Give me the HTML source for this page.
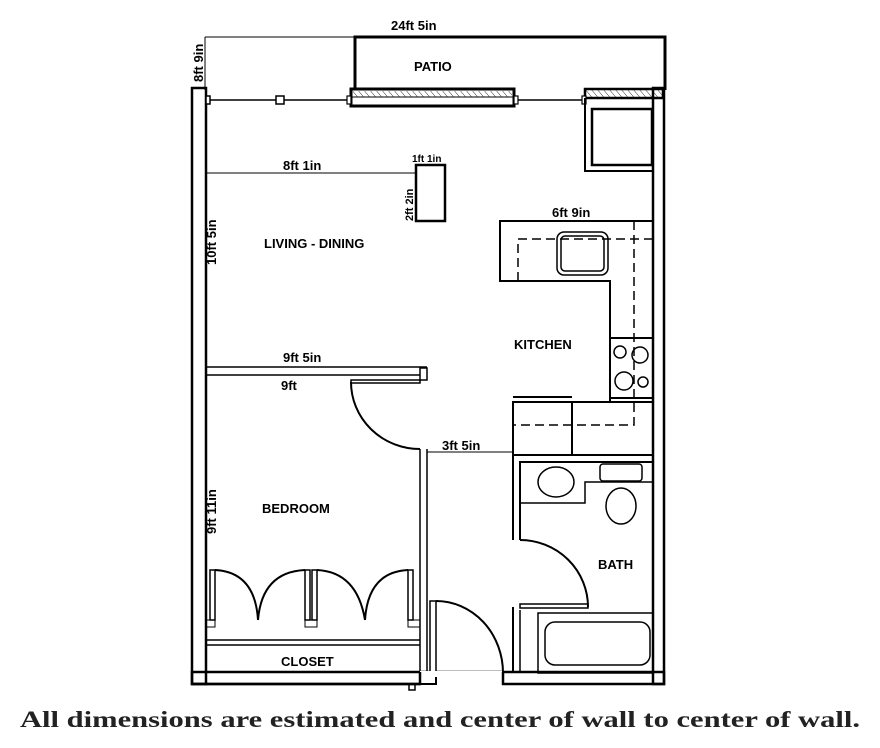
<!DOCTYPE html>
<html><head><style>
html,body{margin:0;padding:0;background:#fff;}
svg{display:block;}
text{font-family:"Liberation Sans",sans-serif;font-weight:bold;font-size:13px;fill:#000;}
</style></head><body>
<svg width="880" height="748" viewBox="0 0 880 748" xmlns="http://www.w3.org/2000/svg">
<defs>
<pattern id="h" width="6" height="10" patternUnits="userSpaceOnUse" patternTransform="skewX(40)">
<line x1="0" y1="0" x2="0" y2="10" stroke="#000" stroke-width="1"/></pattern>
</defs>
<g fill="none" stroke="#000">
<line x1="205" y1="37" x2="355" y2="37" stroke-width="1"/>
<line x1="205" y1="37" x2="205" y2="90" stroke-width="1"/>
<polyline points="355,90 355,37 665,37 665,90" stroke-width="3"/>
<rect x="192" y="88" width="14" height="596" stroke-width="2.5"/>
<rect x="192" y="672" width="472" height="12" stroke-width="2.5"/>
<rect x="653" y="88" width="11" height="596" stroke-width="2.5"/>
<line x1="206" y1="100" x2="585" y2="100" stroke-width="1.5"/>
<rect x="276" y="96" width="8" height="8" stroke-width="1.5" fill="#fff"/>
<rect x="206" y="96" width="4" height="8" stroke-width="1.5" fill="#fff"/>
<rect x="351" y="89" width="163" height="17" stroke-width="3" fill="#fff"/>
<rect x="353" y="91" width="159" height="6" fill="url(#h)" stroke="none"/>
<line x1="351" y1="97" x2="514" y2="97" stroke-width="1"/>
<rect x="347" y="96" width="4" height="8" stroke-width="1.2" fill="#fff"/>
<rect x="514" y="96" width="4" height="8" stroke-width="1.2" fill="#fff"/>
<rect x="585" y="89" width="78" height="9" stroke-width="2.5" fill="url(#h)"/>
<rect x="582" y="96" width="4" height="8" stroke-width="1.2" fill="#fff"/>
<polyline points="585,98 585,171 653,171" stroke-width="2"/>
<rect x="592" y="109" width="60" height="56" stroke-width="2.5"/>
<line x1="206" y1="173" x2="416" y2="173" stroke-width="1"/>
<rect x="416" y="165" width="29" height="56" stroke-width="2.5"/>
<polyline points="653,221 500,221 500,281 610,281 610,338 653,338" stroke-width="2"/>
<rect x="610" y="338" width="43" height="60" stroke-width="2"/>
<line x1="610" y1="398" x2="610" y2="402" stroke-width="2"/>
<rect x="557" y="232" width="51" height="43" rx="7" stroke-width="1.5"/>
<rect x="561" y="236" width="43" height="35" rx="4" stroke-width="1.5"/>
<circle cx="620" cy="352" r="6" stroke-width="1.5"/><circle cx="640" cy="355" r="8" stroke-width="1.5"/>
<circle cx="624" cy="381" r="9" stroke-width="1.5"/><circle cx="643" cy="382" r="5" stroke-width="1.5"/>
<path d="M518 281 V239 H653 M634 221 V425 H513" stroke-width="1.5" stroke-dasharray="9,5"/>
<rect x="513" y="402" width="59" height="53" stroke-width="2"/>
<line x1="513" y1="397" x2="572" y2="397" stroke-width="2"/>
<line x1="572" y1="402" x2="653" y2="402" stroke-width="2"/>
<line x1="572" y1="455" x2="653" y2="455" stroke-width="2"/>
<polyline points="520,540 520,462 653,462" stroke-width="2"/>
<polyline points="513,540 513,455" stroke-width="2"/>
<polyline points="520,503 585,503 585,482 653,482" stroke-width="1.5"/>
<ellipse cx="556" cy="482" rx="18" ry="15" stroke-width="1.5"/>
<rect x="600" y="464" width="42" height="17" rx="3" stroke-width="1.5"/>
<ellipse cx="621" cy="506" rx="15" ry="18" stroke-width="1.5"/>
<path d="M520 540 A68 67 0 0 1 588 607" stroke-width="2"/>
<rect x="520" y="604" width="68" height="4" stroke-width="1.5"/>
<polyline points="513,607 513,673" stroke-width="2"/>
<polyline points="520,610 520,673" stroke-width="1.5"/>
<rect x="538" y="613" width="115" height="60" stroke-width="1.5"/>
<rect x="545" y="622" width="105" height="43" rx="10" stroke-width="1.5"/>
<line x1="206" y1="367" x2="427" y2="367" stroke-width="1.5"/>
<line x1="206" y1="375" x2="420" y2="375" stroke-width="1.5"/>
<rect x="420" y="368" width="7" height="12" stroke-width="1.5"/>
<rect x="351" y="380" width="69" height="3" stroke-width="1.5"/>
<path d="M351 382 A69 67 0 0 0 420 449" stroke-width="2"/>
<line x1="420" y1="449" x2="420" y2="672" stroke-width="1.5"/>
<line x1="427" y1="449" x2="427" y2="672" stroke-width="1.5"/>
<line x1="427" y1="452" x2="513" y2="452" stroke-width="1"/>
<rect x="210" y="570" width="5" height="50" stroke-width="1.5"/>
<rect x="305" y="570" width="5" height="50" stroke-width="1.5"/>
<rect x="312" y="570" width="5" height="50" stroke-width="1.5"/>
<rect x="408" y="570" width="5" height="50" stroke-width="1.5"/>
<rect x="206" y="620" width="9" height="7" stroke-width="1"/>
<rect x="305" y="620" width="12" height="7" stroke-width="1"/>
<rect x="408" y="620" width="12" height="7" stroke-width="1"/>
<path d="M215 570 Q255 572 258 620 M305 570 Q262 572 258 620 M317 570 Q357 572 365 620 M408 570 Q368 572 365 620" stroke-width="2"/>
<line x1="206" y1="640" x2="420" y2="640" stroke-width="1.5"/>
<line x1="206" y1="645" x2="420" y2="645" stroke-width="1.5"/>
<rect x="430" y="601" width="6" height="76" stroke-width="1.5" fill="#fff"/>
<path d="M436 601 A67 72 0 0 1 503 673" stroke-width="2"/>
<rect x="420" y="671" width="82" height="18" stroke="none" fill="#fff"/>
<polyline points="192,684 420,684 420,672" stroke-width="2.5"/>
<polyline points="436,677 436,684 416,684" stroke-width="2"/>
<polyline points="503,672 503,685" stroke-width="2.5"/>
<rect x="409" y="684" width="6" height="6" stroke-width="1.5"/>
</g>
<text x="391" y="30">24ft 5in</text>
<text x="414" y="71">PATIO</text>
<text transform="translate(203,82) rotate(-90)" font-size="11">8ft 9in</text>
<text x="283" y="170">8ft 1in</text>
<text x="412" y="162" style="font-size:10px">1ft 1in</text>
<text transform="translate(413,221) rotate(-90)" style="font-size:11px">2ft 2in</text>
<text transform="translate(216,265) rotate(-90)">10ft 5in</text>
<text x="264" y="248">LIVING - DINING</text>
<text x="552" y="217">6ft 9in</text>
<text x="514" y="349">KITCHEN</text>
<text x="283" y="362">9ft 5in</text>
<text x="281" y="390">9ft</text>
<text x="442" y="450">3ft 5in</text>
<text transform="translate(216,534) rotate(-90)">9ft 11in</text>
<text x="262" y="513">BEDROOM</text>
<text x="598" y="569">BATH</text>
<text x="281" y="666">CLOSET</text>
<text x="440" y="727" text-anchor="middle" textLength="840" lengthAdjust="spacingAndGlyphs" style="font-family:'Liberation Serif',serif;font-size:23px;fill:#222">All dimensions are estimated and center of wall to center of wall.</text>
</svg>
</body></html>
